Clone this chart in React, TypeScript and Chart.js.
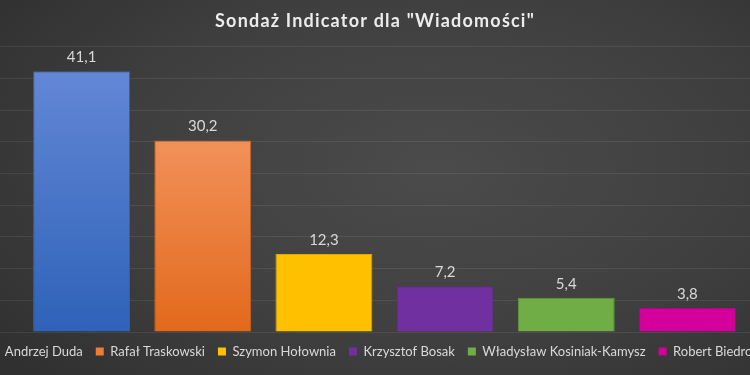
import React, { useEffect, useRef } from "react";
import { Chart, registerables } from "chart.js";

Chart.register(...registerables);

const TITLE = 'Sondaż Indicator dla "Wiadomości"';
const categories = [
  "Andrzej Duda",
  "Rafał Traskowski",
  "Szymon Hołownia",
  "Krzysztof Bosak",
  "Władysław Kosiniak-Kamysz",
  "Robert Biedroń",
];
const values = [41.1, 30.2, 12.3, 7.2, 5.4, 3.8];
const yMin = 0;
const yMax = 45;
const yStep = 5;

const baseColors = ["#4472c4", "#ed7d31", "#ffc000", "#7030a0", "#70ad47", "#d4009b"];
const topColors = ["#6387d6", "#f1915a", "#ffc000", "#7030a0", "#70ad47", "#d4009b"];
const bottomColors = ["#2e62b8", "#e2691b", "#ffc000", "#7030a0", "#70ad47", "#d4009b"];
const borderColors = ["#3a5fa8", "#c8631f", "#e0a800", "#5e2888", "#5e9a3a", "#b50085"];

const FONT = "Lato, 'Noto Sans', sans-serif";
const TEXT = "#d9d9d9";
const CANVAS_W = 840;
const SHIFT = 45;

const dataLabels = {
  id: "dataLabels",
  beforeDraw(chart: any) {
    const tb = chart.titleBlock;
    if (tb && !tb._spaced) {
      const orig = tb.draw.bind(tb);
      tb.draw = (area: any) => {
        const ctx = chart.ctx;
        ctx.save();
        (ctx as any).letterSpacing = "1.2px";
        orig(area);
        ctx.restore();
      };
      tb._spaced = true;
    }
  },
  afterDatasetsDraw(chart: any) {
    const ctx = chart.ctx;
    const meta = chart.getDatasetMeta(0);
    ctx.save();
    ctx.font = `15px ${FONT}`;
    ctx.fillStyle = TEXT;
    ctx.textAlign = "center";
    ctx.textBaseline = "middle";
    meta.data.forEach((bar: any, i: number) => {
      const txt = values[i].toString().replace(".", ",");
      ctx.fillText(txt, bar.x, bar.y - 14);
    });
    ctx.restore();
  },
};

export default function App() {
  const ref = useRef<HTMLCanvasElement>(null);
  useEffect(() => {
    if (!ref.current) return;
    const chart = new Chart(ref.current, {
      type: "bar",
      data: {
        labels: categories,
        datasets: [
          {
            label: "Sondaż",
            data: values,
            backgroundColor: (c: any) => {
              const ch = c.chart;
              const i = c.dataIndex;
              if (!ch.chartArea || !ch.scales || !ch.scales.y || i === undefined) return baseColors[i ?? 0];
              const y = ch.scales.y;
              const top = y.getPixelForValue(values[i]);
              const bot = y.getPixelForValue(0);
              const g = ch.ctx.createLinearGradient(0, top, 0, bot);
              g.addColorStop(0, topColors[i]);
              g.addColorStop(1, bottomColors[i]);
              return g;
            },
            borderColor: borderColors,
            borderWidth: 1,
            barPercentage: 0.8,
            categoryPercentage: 1.0,
          },
        ],
      },
      options: {
        responsive: false,
        animation: false,
        devicePixelRatio: 1,
        layout: { padding: { left: 0, right: 0, top: 0, bottom: 7 } },
        plugins: {
          title: {
            display: true,
            text: TITLE,
            color: "#ececec",
            font: { family: FONT, size: 18, weight: "bold" },
            padding: { top: 10, bottom: 15 },
          },
          legend: {
            display: true,
            position: "bottom",
            labels: {
              color: TEXT,
              font: { family: FONT, size: 13 },
              boxWidth: 8,
              boxHeight: 8,
              padding: 13,
              generateLabels: () =>
                categories.map((name, i) => ({
                  text: name,
                  fillStyle: baseColors[i],
                  strokeStyle: baseColors[i],
                  lineWidth: 0,
                  fontColor: TEXT,
                  hidden: false,
                  index: i,
                })),
            },
          },
          tooltip: { enabled: false },
        },
        scales: {
          x: { display: false },
          y: {
            position: "left",
            min: yMin,
            max: yMax,
            ticks: { display: false, stepSize: yStep },
            border: { display: false },
            grid: { color: "rgba(255,255,255,0.08)", tickLength: 66, lineWidth: 1 },
          },
          y2: {
            position: "right",
            min: yMin,
            max: yMax,
            ticks: { display: false, stepSize: yStep },
            border: { display: false },
            grid: { color: "rgba(255,255,255,0.08)", tickLength: 47, drawOnChartArea: false },
          },
        },
      },
      plugins: [dataLabels],
    });
    return () => chart.destroy();
  }, []);
  return (
    <div
      style={{
        position: "fixed",
        left: 0,
        top: 0,
        width: 750,
        height: 375,
        overflow: "hidden",
        background: "radial-gradient(ellipse 75% 85% at 58% 45%, #4b4b4b 0%, #3f3f3f 55%, #2f2f2f 100%)",
      }}
    >
      <canvas ref={ref} width={CANVAS_W} height={375} style={{ position: "absolute", left: -SHIFT, top: 0 }} />
    </div>
  );
}
